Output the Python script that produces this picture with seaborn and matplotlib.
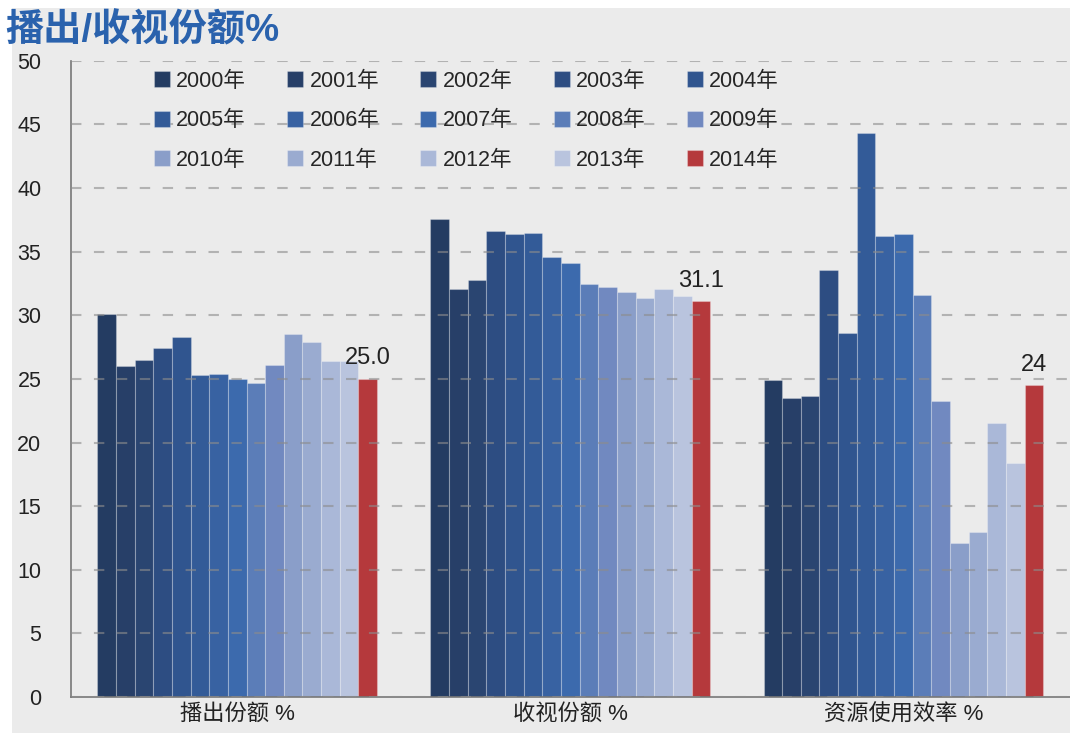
import numpy as np
import pandas as pd
import seaborn as sns
import matplotlib.pyplot as plt
from matplotlib.patches import Rectangle

years = ['2000年', '2001年', '2002年', '2003年', '2004年',
         '2005年', '2006年', '2007年', '2008年', '2009年',
         '2010年', '2011年', '2012年', '2013年', '2014年']
categories = ['播出份额 %', '收视份额 %', '资源使用效率 %']

# values
broadcast_share = [30.1, 26.0, 26.5, 27.4, 28.3, 25.3, 25.4, 25.0, 24.7, 26.1, 28.5, 27.9, 26.4, 26.4, 25.0]
audience_share = [37.6, 32.1, 32.8, 36.6, 36.4, 36.5, 34.6, 34.1, 32.5, 32.2, 31.8, 31.4, 32.1, 31.5, 31.1]
efficiency = [24.9, 23.5, 23.7, 33.6, 28.6, 44.3, 36.2, 36.4, 31.6, 23.3, 12.1, 13.0, 21.5, 18.4, 24.5]
last_labels = ['25.0', '31.1', '24']

colors = ['#243c62', '#273f68', '#2a4571', '#2d4d82', '#30558f',
          '#335b98', '#3862a2', '#3c6aad', '#5b7db8', '#7189c0',
          '#8a9ec9', '#9aabd0', '#aab8d8', '#b9c4de', '#b5393c']

rows = []
for cat, vals in zip(categories, [broadcast_share, audience_share, efficiency]):
    for y, v in zip(years, vals):
        rows.append({'cat': cat, 'year': y, 'value': v})
df = pd.DataFrame(rows)

sns.set_style('white')
plt.rcParams['font.family'] = ['Liberation Sans', 'Noto Sans CJK SC', 'DejaVu Sans']
bg = '#ebebeb'

fig = plt.figure(figsize=(10.7, 7.33), dpi=100, facecolor='white')
# grey panel with a thin white margin on top and left, as in the source
fig.patches.append(Rectangle((12 / 1070, 0), 1, 1 - 8 / 733, transform=fig.transFigure,
                             facecolor=bg, edgecolor='none', zorder=-10))
ax = fig.add_axes([0.066, 0.049, 0.934, 0.868])
ax.set_facecolor(bg)

sns.barplot(data=df, x='cat', y='value', hue='year', order=categories,
            hue_order=years, palette=colors, width=0.84, ax=ax,
            edgecolor=(1, 1, 1, 0.25), linewidth=0.8, saturation=1)

ax.set_xlim(-0.5, 2.5)
ax.set_ylim(0, 50)
ax.set_yticks(np.arange(0, 51, 5))
ax.tick_params(axis='y', labelsize=15.5, length=7, color='#777777', pad=14, labelcolor='#222222')
ax.tick_params(axis='x', labelsize=16, length=0, pad=5, labelcolor='#222222')
ax.set_xlabel('')
ax.set_ylabel('')

ax.yaxis.grid(True, linestyle=(0, (5, 6)), linewidth=1.5, color='#8c8c8c', alpha=0.6, zorder=5)
ax.set_axisbelow(False)
for s in ['top', 'right']:
    ax.spines[s].set_visible(False)
for s in ['left', 'bottom']:
    ax.spines[s].set_color('#777777')
    ax.spines[s].set_linewidth(1.2)

# value labels over the 2014 bars
ax.bar_label(ax.containers[-1], labels=last_labels, padding=7, fontsize=17, color='#222222')

# legend filled row by row
handles, labels = ax.get_legend_handles_labels()
ax.get_legend().remove()
order = [i * 5 + j for j in range(5) for i in range(3)]
ax.legend([handles[k] for k in order], [labels[k] for k in order], ncol=5,
          loc='upper left', bbox_to_anchor=(0.068, 1.008), frameon=False,
          fontsize=15.5, handlelength=0.75, handleheight=0.75, handletextpad=0.3,
          columnspacing=1.9, labelspacing=0.86, borderaxespad=0.3)

fig.text(0.005, 0.958, '播出/收视份额%', fontsize=27.5, fontweight='bold',
         color='#2a62ad', ha='left', va='center')

plt.savefig('out.png', dpi=100, facecolor='white')
plt.close()
